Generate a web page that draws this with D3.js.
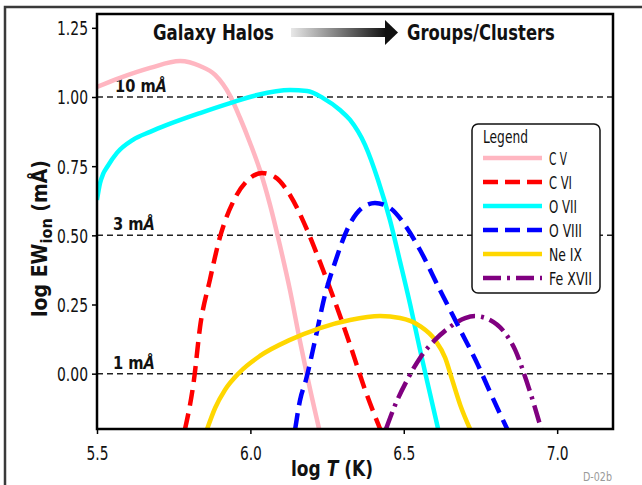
<!DOCTYPE html>
<html><head><meta charset="utf-8">
<script src="https://cdn.jsdelivr.net/npm/d3@7"></script>
<style>
html,body{margin:0;padding:0;background:#fff;}
svg text{font-family:"Liberation Sans Narrow","DejaVu Sans Condensed","Arial Narrow",sans-serif;}
</style></head>
<body>
<svg id="chart" width="642" height="485"></svg>
<script>
// ---- data ----
const xTicks = [5.5, 6.0, 6.5, 7.0];
const yTicks = [0.00, 0.25, 0.50, 0.75, 1.00, 1.25];
const refLevels = [0.0, 0.5, 1.0];
const refLabels = ["1 m", "3 m", "10 m"];
const seriesNames = ["C V", "C VI", "O VII", "O VIII", "Ne IX", "Fe XVII"];

const cV_T = [5.5, 5.575, 5.673, 5.771, 5.836, 5.885, 5.934, 5.966, 5.999, 6.031, 6.064, 6.096, 6.129, 6.161, 6.188, 6.224];
const cV_EW = [1.036, 1.069, 1.105, 1.130, 1.112, 1.080, 1.004, 0.925, 0.834, 0.736, 0.610, 0.465, 0.302, 0.121, -0.023, -0.200];

const cVI_T = [5.787, 5.816, 5.836, 5.868, 5.901, 5.950, 5.999, 6.038, 6.080, 6.129, 6.178, 6.227, 6.276, 6.325, 6.374, 6.423];
const cVI_EW = [-0.200, -0.023, 0.169, 0.339, 0.494, 0.635, 0.707, 0.725, 0.711, 0.646, 0.537, 0.403, 0.259, 0.104, -0.059, -0.200];

const oVII_T = [5.5, 5.510, 5.520, 5.533, 5.565, 5.617, 5.673, 5.728, 5.836, 5.934, 6.022, 6.129, 6.185, 6.237, 6.292, 6.325, 6.374, 6.416, 6.455, 6.488, 6.521, 6.553, 6.579, 6.612];
const oVII_EW = [0.628, 0.689, 0.722, 0.747, 0.798, 0.845, 0.874, 0.899, 0.942, 0.978, 1.007, 1.025, 1.022, 0.996, 0.953, 0.917, 0.826, 0.700, 0.555, 0.404, 0.249, 0.086, -0.041, -0.200];

const oVIII_T = [6.146, 6.162, 6.181, 6.211, 6.243, 6.276, 6.318, 6.364, 6.406, 6.455, 6.504, 6.553, 6.618, 6.684, 6.742, 6.781, 6.837];
const oVIII_EW = [-0.200, -0.095, -0.023, 0.122, 0.284, 0.403, 0.527, 0.599, 0.617, 0.599, 0.537, 0.447, 0.302, 0.158, 0.031, -0.066, -0.200];

const neIX_T = [5.859, 5.885, 5.917, 5.966, 6.031, 6.129, 6.227, 6.325, 6.423, 6.488, 6.553, 6.602, 6.635, 6.658, 6.684, 6.716];
const neIX_EW = [-0.200, -0.124, -0.059, 0.006, 0.064, 0.122, 0.165, 0.194, 0.208, 0.201, 0.172, 0.122, 0.057, -0.023, -0.113, -0.200];

const feXVII_T = [6.442, 6.472, 6.511, 6.553, 6.602, 6.651, 6.700, 6.732, 6.781, 6.830, 6.863, 6.899, 6.925, 6.948];
const feXVII_EW = [-0.200, -0.113, -0.023, 0.057, 0.122, 0.169, 0.201, 0.208, 0.194, 0.147, 0.086, -0.023, -0.113, -0.200];

// ---- styles ----
const colors = ["#ffb6c1", "#ff0000", "#00ffff", "#0000ff", "#ffd700", "#800080"];
const dashes = [null, "16,8", null, "16,8", null, "18,6,3,6"];
const legendDashes = [null, "15,7", null, "15,7", null, "18,6,3,6"];
const legendLabelW = [18, 23, 28, 33, 33, 43];
const refLabelW = [42, 42, 52];

const seriesT = [cV_T, cVI_T, oVII_T, oVIII_T, neIX_T, feXVII_T];
const seriesEW = [cV_EW, cVI_EW, oVII_EW, oVIII_EW, neIX_EW, feXVII_EW];

const svg = d3.select("#chart");
const L = 97, R = 613, T = 14, B = 429;
const x = d3.scaleLinear().domain([5.5, 7.182]).range([L, R]);
const y = d3.scaleLinear().domain([-0.2, 1.3]).range([B, T]);

// helper: place text at (px,py) and squeeze horizontally to width w
function placeFit(textSel, px, py, w, rot) {
  const n = textSel.node();
  const len = n.getComputedTextLength();
  const k = w / len;
  textSel.attr("x", 0).attr("y", 0)
    .attr("transform", `translate(${px},${py})${rot ? ` rotate(${rot})` : ""} scale(${k},1)`);
}

// outer border
svg.append("rect").attr("x", 5).attr("y", 7).attr("width", 660).attr("height", 500)
  .attr("fill", "none").attr("stroke", "#3a3a3a").attr("stroke-width", 2.5);

// defs
const defs = svg.append("defs");
defs.append("clipPath").attr("id", "clip").append("rect")
  .attr("x", L).attr("y", T).attr("width", R - L).attr("height", B - T);
const grad = defs.append("linearGradient").attr("id", "arrowGrad")
  .attr("x1", "0%").attr("x2", "100%").attr("y1", "0%").attr("y2", "0%");
grad.append("stop").attr("offset", "0%").attr("stop-color", "#e8e8e8");
grad.append("stop").attr("offset", "100%").attr("stop-color", "#111");

// reference dashed lines
svg.append("g").selectAll("line").data(refLevels).join("line")
  .attr("x1", L).attr("x2", R).attr("y1", d => y(d)).attr("y2", d => y(d))
  .attr("stroke", "#222").attr("stroke-width", 1.5).attr("stroke-dasharray", "6,4");

// ref labels
refLevels.forEach((d, i) => {
  const t = svg.append("text").attr("font-size", 18).attr("font-weight", "bold").attr("fill", "#111");
  t.append("tspan").text(refLabels[i]);
  t.append("tspan").attr("font-style", "italic").text("Å");
  placeFit(t, i === 2 ? 115 : 113, y(d) - 5, refLabelW[i]);
});

// curves
const line = d3.line().x(d => x(d[0])).y(d => y(d[1])).curve(d3.curveMonotoneX);
const gCurves = svg.append("g").attr("clip-path", "url(#clip)");
seriesNames.forEach((name, i) => {
  const pts = seriesT[i].map((t, k) => [t, seriesEW[i][k]]);
  gCurves.append("path").attr("d", line(pts))
    .attr("fill", "none").attr("stroke", colors[i]).attr("stroke-width", 4.5)
    .attr("stroke-dasharray", dashes[i]);
});

// axes
const xAxis = d3.axisBottom(x).tickValues(xTicks).tickFormat(d3.format(".1f")).tickSize(5).tickSizeOuter(0);
const yAxis = d3.axisLeft(y).tickValues(yTicks).tickFormat(d3.format(".2f")).tickSize(5).tickSizeOuter(0);
const gx = svg.append("g").attr("transform", `translate(0,${B})`).call(xAxis);
const gy = svg.append("g").attr("transform", `translate(${L},0)`).call(yAxis);
[gx, gy].forEach(g => {
  g.select(".domain").remove();
  g.selectAll(".tick line").attr("stroke", "#000").attr("stroke-width", 1.5);
  g.selectAll(".tick text").attr("font-size", 19).attr("fill", "#111")
    .attr("font-family", "'Liberation Sans Narrow','DejaVu Sans Condensed',sans-serif");
});
gx.selectAll(".tick text").each(function () {
  const t = d3.select(this).attr("dy", null).attr("text-anchor", "middle");
  placeFit(t, 0, 31, 22);
});
gy.selectAll(".tick text").each(function () {
  const t = d3.select(this).attr("dy", "0.36em").attr("text-anchor", "end");
  placeFit(t, -9, 0, 31);
});

// plot frame
svg.append("rect").attr("x", L).attr("y", T).attr("width", R - L).attr("height", B - T)
  .attr("fill", "none").attr("stroke", "#000").attr("stroke-width", 2.5);

// axis titles
const xt = svg.append("text").attr("text-anchor", "middle")
  .attr("font-size", 21).attr("font-weight", "bold").attr("fill", "#111");
xt.append("tspan").text("log ");
xt.append("tspan").attr("font-style", "italic").text("T");
xt.append("tspan").text(" (K)");
placeFit(xt, 332, 476, 82);

const yt = svg.append("text").attr("text-anchor", "middle")
  .attr("font-size", 21).attr("font-weight", "bold").attr("fill", "#111");
yt.append("tspan").text("log EW");
yt.append("tspan").attr("font-size", 16).attr("dy", 5).text("ion");
yt.append("tspan").attr("dy", -5).text(" (mÅ)");
placeFit(yt, 47, 238.5, 157, -90);

// top annotation
const t1 = svg.append("text").attr("font-size", 22).attr("font-weight", "bold").attr("fill", "#111").text("Galaxy Halos");
placeFit(t1, 153, 40, 121);
const t2 = svg.append("text").attr("font-size", 22).attr("font-weight", "bold").attr("fill", "#111").text("Groups/Clusters");
placeFit(t2, 407, 40, 148);
svg.append("rect").attr("x", 291).attr("y", 28).attr("width", 95).attr("height", 9).attr("fill", "url(#arrowGrad)");
svg.append("path").attr("d", "M385,20 L398,32.5 L385,45 Z").attr("fill", "#111");

// legend
const lg = svg.append("g");
lg.append("rect").attr("x", 472).attr("y", 124).attr("width", 128).attr("height", 169)
  .attr("rx", 6).attr("fill", "#fff").attr("stroke", "#111").attr("stroke-width", 1.5);
const lt = lg.append("text").attr("font-size", 17).attr("fill", "#111").text("Legend");
placeFit(lt, 483, 143, 45);
seriesNames.forEach((name, i) => {
  const yy = 158 + i * 24;
  lg.append("line").attr("x1", 483).attr("x2", 542).attr("y1", yy).attr("y2", yy)
    .attr("stroke", colors[i]).attr("stroke-width", 4.5).attr("stroke-dasharray", legendDashes[i]);
  const tx = lg.append("text").attr("font-size", 18).attr("fill", "#111").text(name);
  placeFit(tx, 549, yy + 6.5, legendLabelW[i]);
});

// code label
const cl = svg.append("text").attr("text-anchor", "end").attr("font-size", 13).attr("fill", "#999").text("D-02b");
placeFit(cl, 612, 481, 29);
</script>
</body></html>
